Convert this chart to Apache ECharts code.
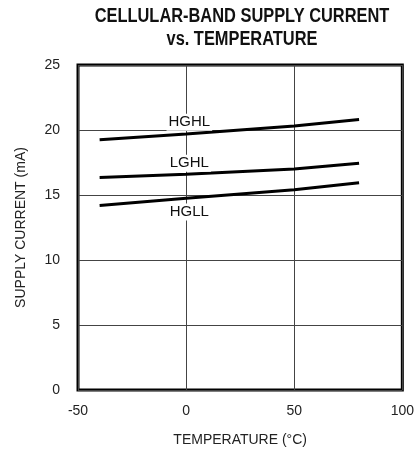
<!DOCTYPE html>
<html><head><meta charset="utf-8">
<script src="https://cdn.jsdelivr.net/npm/echarts@6/dist/echarts.min.js"></script>
<style>html,body{margin:0;padding:0;background:#fff}#c{width:417px;height:455px}</style>
</head><body><div id="c"></div>
<script>
const temps = [-40, 0, 50, 80];
const hghl = [19.25, 19.7, 20.3, 20.8];
const lghl = [16.35, 16.6, 17.0, 17.45];
const hgll = [14.2, 14.75, 15.4, 15.95];
const xTicks = [-50, 0, 50, 100];
const yTicks = [0, 5, 10, 15, 20, 25];
const seriesNames = ['HGHL', 'LGHL', 'HGLL'];
const labelPos = [[1.5, 20.6], [1.5, 17.45], [1.5, 13.7]];
const titleLines = ['CELLULAR-BAND SUPPLY CURRENT', 'vs. TEMPERATURE'];

const F = '"Liberation Sans", Arial, sans-serif';
const chart = echarts.init(document.getElementById('c'));
const data = [hghl, lghl, hgll];
chart.setOption({
  animation: false,
  grid: {left: 78, right: 12, top: 65, bottom: 65, show: true, borderColor: '#000', borderWidth: 3, backgroundColor: 'transparent'},
  xAxis: {
    type: 'value', min: -50, max: 100, interval: 50,
    name: 'TEMPERATURE (°C)', nameLocation: 'middle', nameGap: 43,
    nameTextStyle: {fontFamily: F, fontSize: 14, color: '#222'},
    axisLine: {show: false}, axisTick: {show: false},
    axisLabel: {fontFamily: F, fontSize: 14, color: '#222', margin: 14, showMaxLabel: true, showMinLabel: true},
    splitLine: {show: true, lineStyle: {color: '#444', width: 1}}
  },
  yAxis: {
    type: 'value', min: 0, max: 25, interval: 5,
    name: 'SUPPLY CURRENT (mA)', nameLocation: 'middle', nameGap: 50,
    nameTextStyle: {fontFamily: F, fontSize: 14, color: '#222'},
    axisLine: {show: false}, axisTick: {show: false},
    axisLabel: {fontFamily: F, fontSize: 14, color: '#222', margin: 18},
    splitLine: {show: true, lineStyle: {color: '#444', width: 1}}
  },
  graphic: [
    {type: 'text', x: 242, y: 6, scaleX: 0.82, originX: 0,
     style: {text: titleLines[0], fontFamily: F, fontWeight: 'bold', fontSize: 20, fill: '#111', align: 'center', verticalAlign: 'top'}},
    {type: 'text', x: 242, y: 29, scaleX: 0.82, originX: 0,
     style: {text: titleLines[1], fontFamily: F, fontWeight: 'bold', fontSize: 20, fill: '#111', align: 'center', verticalAlign: 'top'}},
    {type: 'text', x: 416, y: 56, rotation: -Math.PI / 2, originX: 0, originY: 0,
     style: {text: 'MAX2320 toc02', fontFamily: F, fontSize: 9, fill: '#333', verticalAlign: 'bottom'}}
  ],
  series: data.map((d, i) => ({
    type: 'line', name: seriesNames[i], smooth: false, symbol: 'none',
    data: temps.map((t, j) => [t, d[j]]),
    lineStyle: {color: '#000', width: 3},
    z: 3,
    markPoint: {
      symbol: 'rect', symbolSize: 0,
      data: [{coord: labelPos[i], value: seriesNames[i]}],
      label: {show: true, position: 'inside', formatter: seriesNames[i], fontFamily: F, fontSize: 15, color: '#111', backgroundColor: '#fff', padding: [1, 2]}
    }
  }))
});
</script></body></html>
